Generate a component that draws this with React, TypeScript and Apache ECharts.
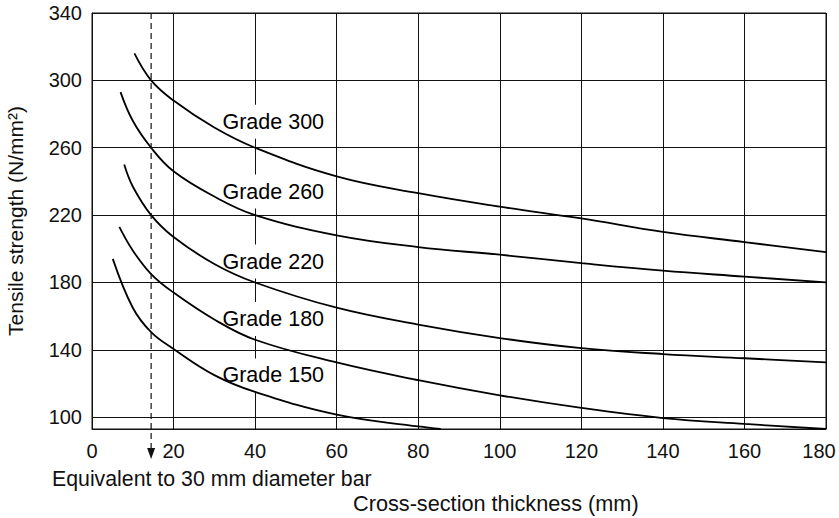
import React, { useEffect, useRef } from "react";
import * as echarts from "echarts";

const FONT = '"Liberation Sans", Arial, Helvetica, sans-serif';

const xTicks = [0, 20, 40, 60, 80, 100, 120, 140, 160, 180];
const yTicks = [100, 140, 180, 220, 260, 300, 340];
const Y_MIN = 93;
const Y_MAX = 340;

const gradeNames = ["Grade 300", "Grade 260", "Grade 220", "Grade 180", "Grade 150"];

const grade300X = [10.4, 14.5, 20, 30, 40, 60, 80, 100, 120, 140, 160, 180];
const grade300Y = [316, 300, 288, 272, 260, 243, 233, 225, 218, 210, 204, 198];

const grade260X = [7, 10, 14.5, 20, 30, 40, 60, 80, 100, 120, 140, 160, 180];
const grade260Y = [293, 276, 260, 246, 231, 220, 208, 201, 196.5, 191.5, 187, 183.5, 180];

const grade220X = [7.9, 10, 14.5, 20, 30, 40, 60, 80, 100, 120, 140, 160, 180];
const grade220Y = [250, 237, 220, 207, 191, 180, 165, 155, 147, 141, 137.5, 135, 132.5];

const grade180X = [6.7, 10, 14.5, 20, 30, 40, 60, 80, 100, 120, 140, 160, 180];
const grade180Y = [213, 199, 185, 174, 158, 146, 132.5, 122, 113, 105.5, 99.5, 96, 93];

const grade150X = [5.1, 10, 14.5, 20, 30, 40, 60, 80, 85.5];
const grade150Y = [194, 165, 150.5, 140.5, 125, 115, 101.5, 94.5, 93];

const labelX = 31.5;
const labelY = [275.5, 234, 192.4, 158.3, 124.8];

const dashX = 14.5;

const xTitle = "Cross-section thickness (mm)";
const yTitle = "Tensile strength (N/mm²)";
const dashNote = "Equivalent to 30 mm diameter bar";

function zip(xs: number[], ys: number[]) {
  return xs.map((x, i) => [x, ys[i]]);
}

export default function App() {
  const ref = useRef<HTMLDivElement>(null);

  useEffect(() => {
    if (!ref.current) return;
    const chart = echarts.init(ref.current, undefined, { renderer: "svg" });
    const curves = [
      zip(grade300X, grade300Y),
      zip(grade260X, grade260Y),
      zip(grade220X, grade220Y),
      zip(grade180X, grade180Y),
      zip(grade150X, grade150Y),
    ];
    const maxX = xTicks[xTicks.length - 1];
    const option: any = {
      animation: false,
      backgroundColor: "#fff",
      textStyle: { fontFamily: FONT },
      grid: {
        left: 92,
        right: 13,
        top: 13,
        bottom: 89,
        show: true,
        borderColor: "#111",
        borderWidth: 1,
        containLabel: false,
        outerBoundsMode: "none",
      },
      xAxis: {
        type: "value",
        min: xTicks[0],
        max: maxX,
        interval: 20,
        axisLine: { show: true, lineStyle: { color: "#111", width: 1 } },
        axisTick: { show: false },
        axisLabel: {
          margin: 12,
          fontSize: 20,
          color: "#111",
          fontFamily: FONT,
          formatter: (v: number) => (v === maxX ? "{last|" + v + "}" : String(v)),
          rich: {
            last: { fontSize: 20, color: "#111", fontFamily: FONT, padding: [0, 14, 0, 0] },
          },
        },
        splitLine: { show: true, lineStyle: { color: "#111", width: 1 } },
      },
      yAxis: {
        type: "value",
        min: Y_MIN,
        max: Y_MAX,
        name: yTitle,
        nameLocation: "middle",
        nameGap: 66,
        nameTextStyle: { fontSize: 21, color: "#111", fontFamily: FONT },
        axisLine: { show: true, lineStyle: { color: "#111", width: 1 } },
        axisTick: { show: false, customValues: yTicks },
        axisLabel: {
          customValues: yTicks,
          margin: 10,
          fontSize: 20,
          color: "#111",
          fontFamily: FONT,
        },
        splitLine: { show: true, lineStyle: { color: "#111", width: 1 } },
      },
      series: [
        ...curves.map((data, i) => ({
          type: "line",
          name: gradeNames[i],
          data,
          smooth: 0.4,
          showSymbol: false,
          symbol: "none",
          silent: true,
          z: 3,
          lineStyle: { color: "#000", width: 1.8 },
        })),
        {
          type: "scatter",
          silent: true,
          z: 2,
          symbolSize: 0,
          itemStyle: { opacity: 1 },
          data: labelY.map((y) => [labelX, y]),
          label: {
            show: true,
            position: "right",
            distance: 0,
            formatter: (p: any) => gradeNames[p.dataIndex],
            fontSize: 21.5,
            color: "#000",
            opacity: 1,
            fontFamily: FONT,
            backgroundColor: "#fff",
            padding: [6, 2, 6, 2],
          },
        },
      ],
    };
    chart.setOption(option);

    const top = chart.convertToPixel({ gridIndex: 0 }, [dashX, Y_MAX]) as number[];
    const bot = chart.convertToPixel({ gridIndex: 0 }, [dashX, Y_MIN]) as number[];
    const x = top[0];
    const yEnd = bot[1] + 19;
    chart.setOption({
      graphic: [
        {
          type: "line",
          silent: true,
          z: 10,
          shape: { x1: x, y1: top[1], x2: x, y2: yEnd },
          style: { stroke: "#111", lineWidth: 1.2, lineDash: [6, 4] },
        },
        {
          type: "polygon",
          silent: true,
          z: 10,
          shape: { points: [[x - 4, yEnd], [x + 4, yEnd], [x, yEnd + 11]] },
          style: { fill: "#111" },
        },
        {
          type: "text",
          silent: true,
          left: 52,
          top: 468,
          style: { text: dashNote, fontSize: 21.3, fontFamily: FONT, fill: "#111" },
        },
        {
          type: "text",
          silent: true,
          left: 353,
          top: 492,
          style: { text: xTitle, fontSize: 21.7, fontFamily: FONT, fill: "#111" },
        },
      ],
    });

    return () => chart.dispose();
  }, []);

  return (
    <div
      ref={ref}
      style={{ position: "absolute", left: 0, top: 0, width: 839, height: 518 }}
    />
  );
}
